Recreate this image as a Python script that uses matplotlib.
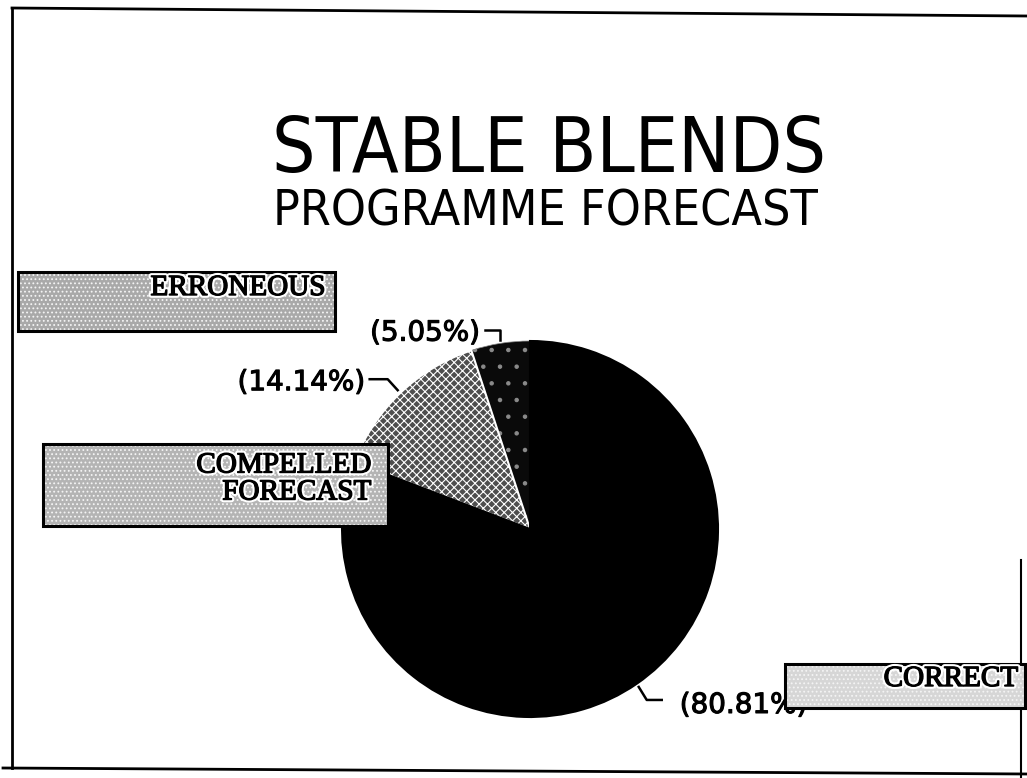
import numpy as np
import matplotlib.pyplot as plt
import matplotlib.patheffects as pe
from matplotlib import font_manager
from matplotlib.font_manager import FontProperties
from matplotlib.patches import Rectangle

# forecast outcome shares, in pie order starting at twelve o'clock
categories = ["ERRONEOUS", "COMPELLED\nFORECAST", "CORRECT"]
shares = [5.05, 14.14, 80.81]
title = "STABLE BLENDS"
subtitle = "PROGRAMME FORECAST"


def narrow_sans():
    """Pick a condensed sans-serif face if one is installed."""
    for f in font_manager.fontManager.ttflist:
        if (f.stretch in ("condensed", "semi-condensed")
                and f.style == "normal" and f.weight in (400, "normal")
                and "Sans" in f.name and "Mono" not in f.name):
            return FontProperties(fname=f.fname)
    return FontProperties(family="Liberation Sans")


def fit_width(txt, width_px):
    """Scale a text's font size so it spans the given width."""
    fig.canvas.draw()
    w = txt.get_window_extent().width
    txt.set_fontsize(txt.get_fontsize() * width_px / w)


plt.rcParams["hatch.linewidth"] = 0.8

fig = plt.figure(figsize=(10.27, 7.78), dpi=100)
ax = fig.add_axes([0, 0, 1, 1])

center = (530, 529)
radius = 188

wedges, _ = ax.pie(
    shares,
    center=center,
    radius=radius,
    startangle=-90,
    counterclock=False,
    colors=["#0a0a0a", "#4e4e4e", "#000000"],
    wedgeprops=dict(edgecolor="white", linewidth=1.5),
)
# sparse grey speckle on the small slice, dense mesh on the middle one
wedges[0].set_hatch(".")
wedges[0].set_edgecolor("#8a8a8a")
wedges[0].set_linewidth(0.5)
wedges[1].set_hatch("xxxx")
wedges[2].set_edgecolor("black")

# pixel-style coordinates, y running downwards
ax.set_xlim(0, 1027)
ax.set_ylim(778, 0)
ax.set_aspect("auto")
ax.axis("off")

# outer frame of the slide
ax.plot([12, 1027], [8, 16], color="black", lw=2)
ax.plot([12, 12], [8, 768], color="black", lw=2)
ax.plot([3, 1027], [768, 774], color="black", lw=2)
ax.plot([1021, 1021], [560, 778], color="black", lw=1.5)

# titles in a narrow grotesque
title_font = narrow_sans()
t1 = ax.text(272, 172, title, fontproperties=title_font, fontsize=59,
             ha="left", va="baseline")
t2 = ax.text(273, 225, subtitle, fontproperties=title_font, fontsize=37,
             ha="left", va="baseline")
fit_width(t1, 555)
fit_width(t2, 545)

# percentage labels with bent leader lines
# (leader offsets relative to the slice tip, text anchor, alignment)
leaders = [
    ([(0, -10), (-15, -10)], (-20, -7), "right"),
    ([(-10, -11), (-28, -11)], (-33, -8), "right"),
    ([(8, 13), (23, 13)], (41, 18), "left"),
]
cum = np.cumsum([0] + shares[:-1])
for share, before, (bends, anchor, align) in zip(shares, cum, leaders):
    ang = np.deg2rad(90 + (before + share / 2) * 3.6)
    tx = center[0] + radius * 1.02 * np.cos(ang)
    ty = center[1] - radius * 1.02 * np.sin(ang)
    xs = [tx] + [tx + dx for dx, dy in bends]
    ys = [ty] + [ty + dy for dx, dy in bends]
    ax.plot(xs, ys, color="black", lw=1.8, zorder=3)
    ax.text(tx + anchor[0], ty + anchor[1], f"({share:.2f}%)",
            family="DejaVu Sans", fontsize=20, ha=align, va="center", zorder=3,
            path_effects=[pe.withStroke(linewidth=0.8, foreground="black")])

# stippled legend boxes
boxes = [
    ((18, 272, 335, 331), (325, 288), "#a9a9a9"),
    ((43, 444, 388, 526), (371, 479), "#b4b4b4"),
    ((785, 664, 1025, 708), (1018, 679), "#d6d6d6"),
]
for name, ((x0, y0, x1, y1), (lx, ly), face) in zip(categories, boxes):
    ax.add_patch(Rectangle((x0, y0), x1 - x0, y1 - y0, facecolor=face,
                           edgecolor="#f4f4f4", hatch="....", lw=0, zorder=4))
    ax.add_patch(Rectangle((x0, y0), x1 - x0, y1 - y0, fill=False,
                           edgecolor="black", lw=2.2, zorder=4))
    ax.text(lx, ly, name, family="Liberation Serif", fontsize=21,
            ha="right", va="center", multialignment="right", linespacing=1.05,
            zorder=5,
            path_effects=[pe.withStroke(linewidth=4, foreground="white"),
                          pe.withStroke(linewidth=1.0, foreground="black")])

fig.savefig("out.png", dpi=100)
